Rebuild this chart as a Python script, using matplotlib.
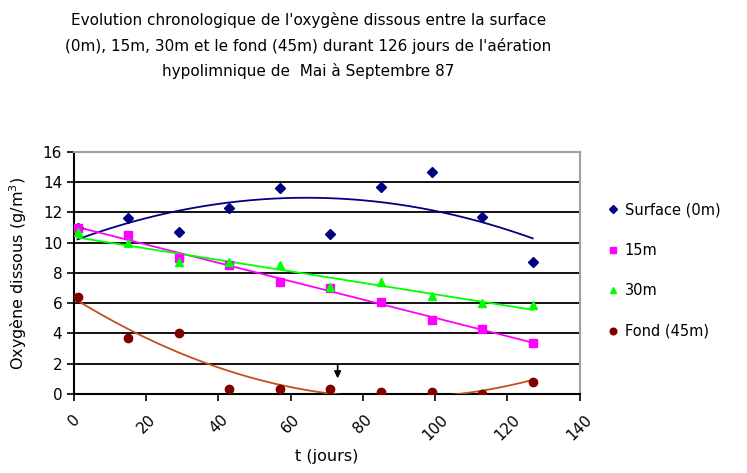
import numpy as np
import matplotlib.pyplot as plt

# jours de prélèvement et oxygène dissous (g/m3)
jours = [1, 15, 29, 43, 57, 71, 85, 99, 113, 127]
surface = [11.0, 11.6, 10.7, 12.3, 13.6, 10.6, 13.7, 14.7, 11.7, 8.7]
m15 = [11.0, 10.5, 9.0, 8.5, 7.4, 7.0, 6.1, 4.9, 4.3, 3.4]
m30 = [10.7, 10.0, 8.7, 8.7, 8.5, 7.1, 7.4, 6.5, 6.0, 5.9]
fond = [6.4, 3.7, 4.0, 0.3, 0.3, 0.3, 0.15, 0.15, 0.0, 0.8]

xticks = [0, 20, 40, 60, 80, 100, 120, 140]
yticks = [0, 2, 4, 6, 8, 10, 12, 14, 16]

fig = plt.figure(figsize=(7.47, 4.73), dpi=100)
ax = fig.add_axes([0.099, 0.167, 0.677, 0.512])

series = [
    ('Surface (0m)', surface, '#000080', '#000080', 'D', 2),
    ('15m', m15, '#ff00ff', '#ff00ff', 's', 1),
    ('30m', m30, '#00ff00', '#00ff00', '^', 1),
    ('Fond (45m)', fond, '#800000', '#c0501f', 'o', 2),
]

xs = np.linspace(jours[0], jours[-1], 200)
for name, vals, col, tcol, mk, deg in series:
    ax.plot(jours, vals, linestyle='none', marker=mk, color=col,
            markersize=6 if mk != 'D' else 5, label=name, zorder=4)
    coef = np.polyfit(jours, vals, deg)
    ax.plot(xs, np.polyval(coef, xs), color=tcol, linewidth=1.3, zorder=3)

ax.annotate('', xy=(73, 0.85), xytext=(73, 2.1),
            arrowprops=dict(arrowstyle='-|>', color='black', lw=1.2,
                            mutation_scale=10))

ax.set_xlim(0, 140)
ax.set_ylim(0, 16)
ax.set_xticks(xticks)
ax.set_yticks(yticks)
ax.set_xticklabels([str(t) for t in xticks], rotation=45, fontsize=11)
ax.tick_params(axis='y', labelsize=11, direction='out', length=5, width=1.2)
ax.tick_params(axis='x', direction='out', length=5, width=1.2, pad=8)
ax.yaxis.grid(True, color='black', linewidth=1.3)
ax.set_axisbelow(True)
for s in ['top', 'right']:
    ax.spines[s].set_color('#a0a0a0')
    ax.spines[s].set_linewidth(1.5)
for s in ['left', 'bottom']:
    ax.spines[s].set_linewidth(1.5)

ax.set_xlabel('t (jours)', fontsize=11.5, labelpad=4)
ax.set_ylabel('Oxygène dissous (g/m$^3$)', fontsize=11.5, labelpad=10)

fig.text(0.413, 0.975,
         "Evolution chronologique de l'oxygène dissous entre la surface\n"
         "(0m), 15m, 30m et le fond (45m) durant 126 jours de l'aération\n"
         "hypolimnique de  Mai à Septembre 87",
         ha='center', va='top', fontsize=11, linespacing=1.75)

fig.legend(loc='upper left', bbox_to_anchor=(0.805, 0.585), frameon=False,
           fontsize=10.5, handlelength=0.8, handletextpad=0.4,
           labelspacing=1.75, borderaxespad=0, markerscale=0.8)

fig.savefig('out.png', dpi=100)
